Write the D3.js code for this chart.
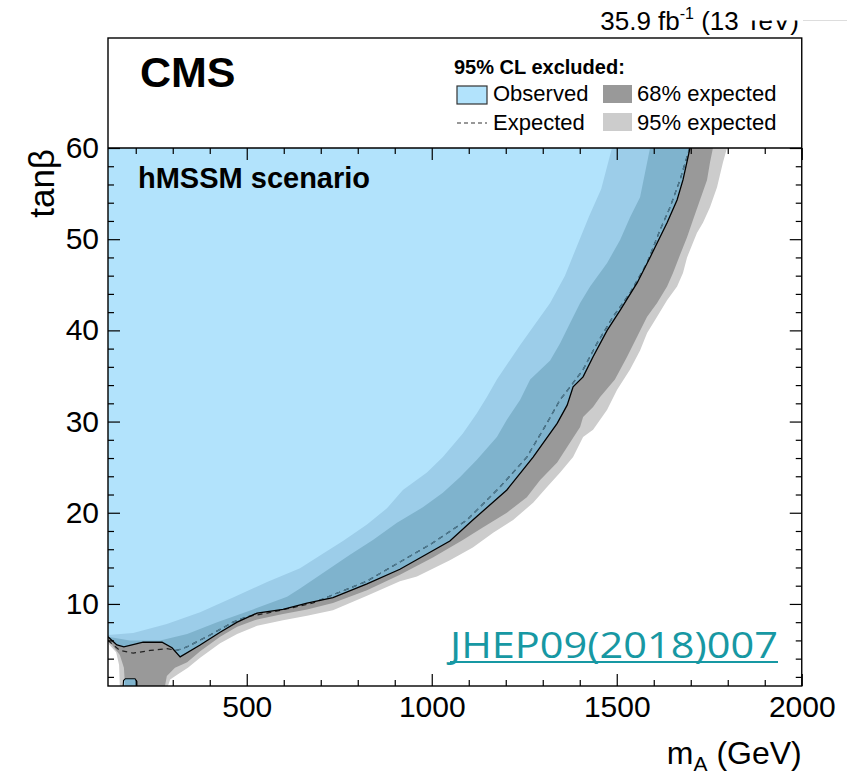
<!DOCTYPE html>
<html>
<head>
<meta charset="utf-8">
<script src="https://cdn.jsdelivr.net/npm/d3@7"></script>
<style>
  body { margin: 0; background: #fff; }
  svg text { font-family: "Liberation Sans", Arial, Helvetica, sans-serif; }
</style>
</head>
<body>
<svg id="chart" width="847" height="775"></svg>
<script>
// contours, [mA (GeV), tanb]
var observed = [[125,6.4],[149,5.5],[168,5.3],[220,5.8],[271,5.8],[298,5.2],[320,4.2],[374,5.5],[428,6.9],[474,8.0],
  [528,9.0],[598,9.4],[663,10.1],[733,10.7],[825,12.2],[914,13.8],[1049,16.9],[1111,19.2],[1203,22.5],[1274,26.1],
  [1339,29.8],[1366,31.8],[1382,33.8],[1409,34.9],[1436,37.1],[1474,40.0],[1509,42.2],[1555,45.2],[1590,48.0],
  [1636,51.8],[1663,54.3],[1679,56.5],[1698,60.0]];

var observedIsland = [[166,1.0],[167,1.6],[172,1.8],[198,1.8],[203,1.5],[203,1.0]];

var expected = [[125,6.0],[157,4.9],[193,4.6],[239,4.9],[284,5.1],[311,4.9],[339,5.3],[401,6.6],[463,8.0],[501,8.6],
  [555,9.0],[625,9.6],[679,10.1],[733,11.0],[825,12.5],[914,14.6],[1003,16.7],[1095,19.2],[1184,22.8],[1257,26.1],
  [1311,29.8],[1347,32.4],[1374,33.8],[1409,35.7],[1447,38.6],[1490,41.5],[1536,44.1],[1582,47.4],[1617,51.0],
  [1644,53.5],[1671,56.5],[1697,60.0]];

// band edges: outer = less excluded side (top -> low mA), inner = more excluded side (low mA -> top)
var band68Outer = [[1760,60],[1752,58.4],[1744,56.5],[1725,54.3],[1706,52.1],[1690,50.2],[1676,48.8],[1652,46.3],
  [1636,44.8],[1609,43.0],[1582,41.5],[1555,39.3],[1528,37.1],[1495,34.6],[1455,32.7],[1436,31.6],[1409,30.5],
  [1401,29.4],[1366,27.2],[1339,25.5],[1293,23.6],[1257,21.7],[1203,20.0],[1139,18.4],[1084,17.0],[1003,15.1],
  [914,13.2],[825,11.5],[733,10.1],[663,9.4],[598,8.9],[528,8.3],[474,7.5],[428,6.4],[374,4.8],[339,3.6],
  [306,3.0],[284,2.1],[279,1.0],[171,1.0],[168,3.0],[157,4.4],[136,5.5],[125,5.9]];
var band68Inner = [[125,6.4],[184,6.0],[266,6.0],[339,6.7],[420,8.0],[517,9.4],[609,10.8],[644,11.7],[717,13.7],
  [779,15.4],[841,17.0],[906,18.9],[976,20.6],[1030,22.2],[1076,23.9],[1122,25.8],[1176,28.3],[1203,30.2],
  [1239,32.4],[1266,34.6],[1320,36.7],[1347,38.6],[1374,40.8],[1401,43.0],[1428,44.8],[1474,47.4],[1509,49.9],
  [1536,52.4],[1563,54.6],[1590,60]];

var band95Outer = [[1798,60],[1787,58.4],[1771,55.7],[1752,53.5],[1733,51.8],[1717,50.7],[1706,49.6],[1690,48.0],
  [1679,46.3],[1663,44.8],[1636,43.3],[1609,41.5],[1582,39.7],[1563,37.8],[1536,35.7],[1501,33.5],[1474,31.3],
  [1436,29.1],[1409,28.3],[1382,26.1],[1347,24.4],[1311,22.8],[1274,21.1],[1220,19.2],[1166,17.8],[1111,16.2],
  [1049,14.8],[960,13.0],[914,12.5],[825,10.9],[733,9.3],[663,8.7],[598,8.2],[528,7.6],[474,6.7],[428,5.7],
  [374,4.1],[341,3.0],[314,2.3],[293,1.7],[287,1.0],[157,1.0],[155,3.3],[147,4.7],[125,5.7]];
var band95Inner = [[125,6.6],[193,6.8],[284,7.8],[374,9.1],[463,10.7],[555,12.4],[644,13.9],[698,15.3],[760,16.9],
  [825,18.7],[879,20.5],[922,22.5],[987,24.4],[1030,26.1],[1084,28.7],[1122,30.9],[1149,32.7],[1176,34.6],
  [1239,38.4],[1320,43.0],[1360,46.0],[1395,49.5],[1425,52.5],[1458,55.5],[1487,60]];

var xMajorTicks = [500,1000,1500,2000];
var xMinorTicks = [200,300,400,600,700,800,900,1100,1200,1300,1400,1600,1700,1800,1900];
var yMajorTicks = [10,20,30,40,50,60];
var yMinorTicks = [2,4,6,8,12,14,16,18,22,24,26,28,32,34,36,38,42,44,46,48,52,54,56,58];

var frame = {left: 108, right: 801.75, top: 38, plotTop: 148, bottom: 686};

var x = d3.scaleLinear().domain([125,2000]).range([frame.left, frame.right]);
var y = d3.scaleLinear().domain([1,60]).range([frame.bottom, frame.plotTop]);

var svg = d3.select("#chart");
var defs = svg.append("defs");

var line = d3.line().x(function(d){ return x(d[0]); }).y(function(d){ return y(d[1]); });
function closed(pts) { return line(pts) + "Z"; }

var obsPoly = observed.concat([[125,60]]);
var band95Poly = band95Outer.concat(band95Inner);
var band68Poly = band68Outer.concat(band68Inner);

defs.append("clipPath").attr("id","plotClip").append("rect")
    .attr("x", frame.left).attr("y", frame.plotTop)
    .attr("width", frame.right - frame.left).attr("height", frame.bottom - frame.plotTop);

var obsClip = defs.append("clipPath").attr("id","obsClip");
obsClip.append("path").attr("d", closed(obsPoly));
obsClip.append("path").attr("d", closed(observedIsland));

var plot = svg.append("g").attr("clip-path","url(#plotClip)");

// expected bands
plot.append("path").attr("d", closed(band95Poly)).attr("fill","#cccccc");
plot.append("path").attr("d", closed(band68Poly)).attr("fill","#999999");

// observed exclusion
plot.append("path").attr("d", closed(obsPoly)).attr("fill","#b2e3fc");
plot.append("path").attr("d", closed(observedIsland)).attr("fill","#b2e3fc");

// bands seen through the observed area
var onBlue = plot.append("g").attr("clip-path","url(#obsClip)");
onBlue.append("path").attr("d", closed(band95Poly)).attr("fill","#9ccde9");
onBlue.append("path").attr("d", closed(band68Poly)).attr("fill","#7fb3cd");

// expected line (darker outside, bluish inside the observed area)
plot.append("path").attr("d", line(expected))
    .attr("fill","none").attr("stroke","#222").attr("stroke-width",1.2).attr("stroke-dasharray","5,4");
plot.append("g").attr("clip-path","url(#obsClip)")
  .append("path").attr("d", line(expected))
    .attr("fill","none").attr("stroke","#4e7f98").attr("stroke-width",1.2).attr("stroke-dasharray","5,4");

// observed line
plot.append("path").attr("d", line(observed))
    .attr("fill","none").attr("stroke","#000").attr("stroke-width",1.3);
plot.append("path").attr("d", line(observedIsland))
    .attr("fill","none").attr("stroke","#000").attr("stroke-width",1.1);

// axes
function styleAxis(g) {
  g.select(".domain").remove();
  g.selectAll("line").attr("stroke","#000").attr("stroke-width",1.2);
  g.attr("font-size", 30).attr("font-family", null);
  g.selectAll("text").attr("fill","#000");
}

svg.append("g").attr("transform","translate(0," + frame.bottom + ")")
    .call(d3.axisBottom(x).tickValues(xMajorTicks).tickSize(-12).tickPadding(10).tickFormat(d3.format("d")))
    .call(styleAxis);
svg.append("g").attr("transform","translate(0," + frame.bottom + ")")
    .call(d3.axisBottom(x).tickValues(xMinorTicks).tickSize(-6).tickFormat(""))
    .call(styleAxis);
svg.append("g").attr("transform","translate(0," + frame.plotTop + ")")
    .call(d3.axisTop(x).tickValues(xMajorTicks).tickSize(-12).tickFormat(""))
    .call(styleAxis);
svg.append("g").attr("transform","translate(0," + frame.plotTop + ")")
    .call(d3.axisTop(x).tickValues(xMinorTicks).tickSize(-6).tickFormat(""))
    .call(styleAxis);

svg.append("g").attr("transform","translate(" + frame.left + ",0)")
    .call(d3.axisLeft(y).tickValues(yMajorTicks).tickSize(-12).tickPadding(9).tickFormat(d3.format("d")))
    .call(styleAxis);
svg.append("g").attr("transform","translate(" + frame.left + ",0)")
    .call(d3.axisLeft(y).tickValues(yMinorTicks).tickSize(-6).tickFormat(""))
    .call(styleAxis);
svg.append("g").attr("transform","translate(" + frame.right + ",0)")
    .call(d3.axisRight(y).tickValues(yMajorTicks).tickSize(-12).tickFormat(""))
    .call(styleAxis);
svg.append("g").attr("transform","translate(" + frame.right + ",0)")
    .call(d3.axisRight(y).tickValues(yMinorTicks).tickSize(-6).tickFormat(""))
    .call(styleAxis);

// frame + legend box border
svg.append("rect")
    .attr("x", frame.left).attr("y", frame.top)
    .attr("width", frame.right - frame.left).attr("height", frame.bottom - frame.top)
    .attr("fill","none").attr("stroke","#000").attr("stroke-width",1.4);
svg.append("line")
    .attr("x1", frame.left).attr("x2", frame.right)
    .attr("y1", frame.plotTop).attr("y2", frame.plotTop)
    .attr("stroke","#000").attr("stroke-width",1.4);

// axis titles
svg.append("text")
    .attr("transform","translate(54," + (frame.plotTop + 1) + ") rotate(-90)")
    .attr("text-anchor","end").attr("font-size",35)
    .text("tanβ");

var xt = svg.append("text").attr("x", frame.right).attr("y", 764)
    .attr("text-anchor","end").attr("font-size",32);
xt.append("tspan").text("m");
xt.append("tspan").attr("font-size",21).attr("dy",7).text("A");
xt.append("tspan").attr("dy",-7).text(" (GeV)");

// labels in the box
svg.append("text").attr("x",140).attr("y",87)
    .attr("font-size",43).attr("font-weight","bold").text("CMS");
svg.append("text").attr("x",138).attr("y",188)
    .attr("font-size",29).attr("font-weight","bold").text("hMSSM scenario");

var lumi = svg.append("text").attr("x",799).attr("y",30)
    .attr("text-anchor","end").attr("font-size",26);
lumi.append("tspan").text("35.9 fb");
lumi.append("tspan").attr("font-size",16).attr("dy",-11).text("-1");
lumi.append("tspan").attr("dy",11).text(" (13 TeV)");
// strip that cuts through the top of "TeV" in the original
svg.append("rect").attr("x",741).attr("y",0).attr("width",106).attr("height",20.5).attr("fill","#fff");
svg.append("line").attr("x1",803).attr("x2",847).attr("y1",20.5).attr("y2",20.5)
    .attr("stroke","#ddd").attr("stroke-width",1);

// legend
var legend = svg.append("g");
legend.append("text").attr("x",454).attr("y",74)
    .attr("font-size",20).attr("font-weight","bold").text("95% CL excluded:");
legend.append("rect").attr("x",457).attr("y",86).attr("width",30).attr("height",18)
    .attr("fill","#b2e3fc").attr("stroke","#333").attr("stroke-width",1.2);
legend.append("text").attr("x",493).attr("y",101).attr("font-size",22).text("Observed");
legend.append("rect").attr("x",603).attr("y",85).attr("width",29).attr("height",18).attr("fill","#999999");
legend.append("text").attr("x",637).attr("y",101).attr("font-size",22).text("68% expected");
legend.append("line").attr("x1",457).attr("x2",487).attr("y1",123).attr("y2",123)
    .attr("stroke","#333").attr("stroke-width",1.2).attr("stroke-dasharray","4,3");
legend.append("text").attr("x",493).attr("y",130).attr("font-size",22).text("Expected");
legend.append("rect").attr("x",603).attr("y",113).attr("width",29).attr("height",18).attr("fill","#cccccc");
legend.append("text").attr("x",637).attr("y",130).attr("font-size",22).text("95% expected");

// journal reference
svg.append("text").attr("x",450).attr("y",658)
    .attr("font-size",37).attr("fill","#1798a3")
    .style("font-family","'Open Sans', Lato, sans-serif")
    .attr("textLength",328).attr("lengthAdjust","spacingAndGlyphs")
    .text("JHEP09(2018)007");
svg.append("line").attr("x1",450).attr("x2",778).attr("y1",662).attr("y2",662)
    .attr("stroke","#1798a3").attr("stroke-width",2);
</script>
</body>
</html>
